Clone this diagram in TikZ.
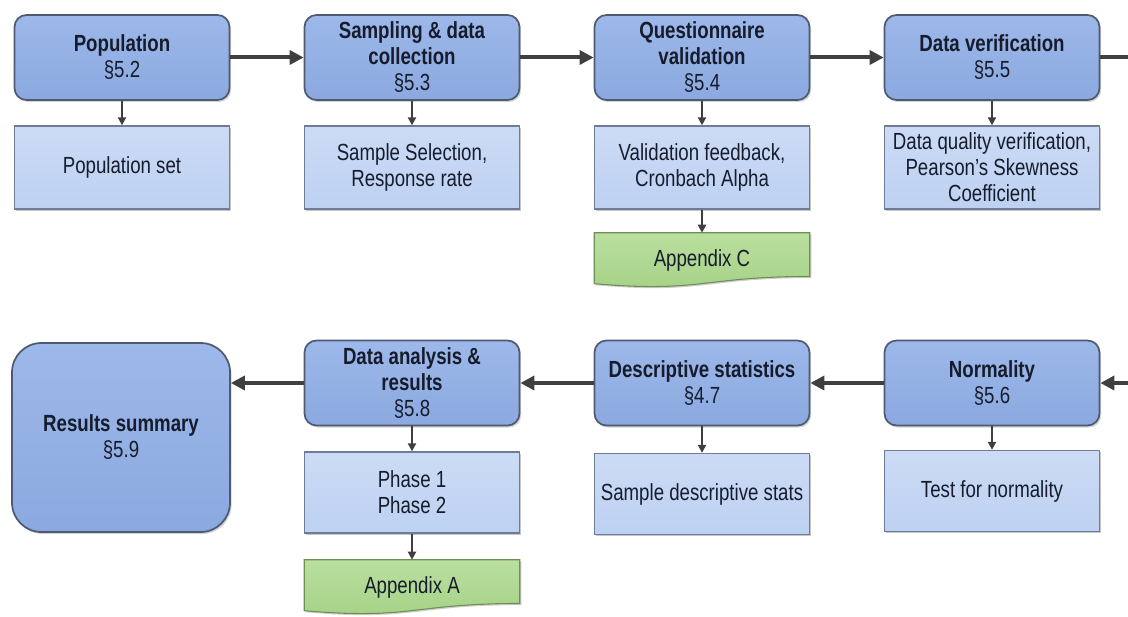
\documentclass[tikz,border=0pt]{standalone}
\usepackage{fontspec}
\setmainfont{Liberation Sans}[FakeStretch=0.8]
\usetikzlibrary{arrows.meta,shadows,calc,backgrounds}
\definecolor{hdrFill}{HTML}{8BA9E0}
\definecolor{hdrTop}{HTML}{9DB8E9}
\definecolor{hdrLine}{HTML}{4E5A72}
\definecolor{subFill}{HTML}{BDD1F2}
\definecolor{subTop}{HTML}{CCDBF5}
\definecolor{subLine}{HTML}{6E7C96}
\definecolor{grnFill}{HTML}{A5D186}
\definecolor{grnTop}{HTML}{BADF9F}
\definecolor{grnLine}{HTML}{6F8F55}
\definecolor{arrowCol}{HTML}{3F3F3F}
\definecolor{txtCol}{HTML}{161C2C}
\tikzset{
  hdr/.style={draw=hdrLine, line width=1.3pt, rounded corners=9pt, top color=hdrTop, bottom color=hdrFill,
    minimum width=161.25pt, minimum height=63.75pt, inner sep=0pt, align=center, text=txtCol,
    font=\fontsize{17.5}{19.5}\selectfont,
    drop shadow={shadow xshift=1.2pt,shadow yshift=-1.5pt,opacity=0.35}},
  subbox/.style={draw=subLine, line width=1pt, top color=subTop, bottom color=subFill,
    minimum width=161.25pt, minimum height=62.25pt, inner sep=0pt, align=center, text=txtCol,
    font=\fontsize{17.5}{19.5}\selectfont,
    drop shadow={shadow xshift=1.2pt,shadow yshift=-1.2pt,opacity=0.45}},
  docnode/.style={minimum width=161.25pt, minimum height=40.5pt, inner sep=0pt, text=txtCol,
    font=\fontsize{17.5}{19.5}\selectfont},
  docshape/.style={draw=grnLine, line width=0.8pt, top color=grnTop, bottom color=grnFill,
    drop shadow={shadow xshift=1.2pt,shadow yshift=-1.2pt,opacity=0.4}},
  mainarrow/.style={draw=arrowCol, line width=3pt, -{Triangle[length=10.5pt,width=10.5pt]}},
  smallarrow/.style={draw=arrowCol, line width=1.5pt, -{Triangle[length=6pt,width=6pt]}},
}
\begin{document}
\begin{tikzpicture}[x=0.75pt,y=-0.75pt]
\useasboundingbox (0,0) rectangle (1128,617);
% top row headers
\node[hdr] (pop)  at (122,57.5) {\textbf{Population}\\\S5.2};
\node[hdr] (samp) at (412,57.5) {\textbf{Sampling \& data}\\\textbf{collection}\\\S5.3};
\node[hdr] (ques) at (702,57.5) {\textbf{Questionnaire}\\\textbf{validation}\\\S5.4};
\node[hdr] (ver)  at (992,57.5) {\textbf{Data verification}\\\S5.5};
% top row sub boxes
\node[subbox] (popS)  at (122,167.5) {Population set};
\node[subbox] (sampS) at (412,167.5) {Sample Selection,\\Response rate};
\node[subbox] (quesS) at (702,167.5) {Validation feedback,\\Cronbach Alpha};
\node[subbox] (verS)  at (992,167.5) {Data quality verification,\\Pearson’s Skewness\\Coefficient};
\node[docnode] (appC) at (702,260) {Appendix C};
% bottom row headers
\node[hdr, minimum width=163.5pt, minimum height=141.75pt, rounded corners=22pt] (res) at (121,437.5) {\textbf{Results summary}\\\S5.9};
\node[hdr] (ana)  at (412,383) {\textbf{Data analysis \&}\\\textbf{results}\\\S5.8};
\node[hdr] (desc) at (702,383) {\textbf{Descriptive statistics}\\\S4.7};
\node[hdr] (norm) at (992,383) {\textbf{Normality}\\\S5.6};
% bottom row sub boxes
\node[subbox, minimum height=60.75pt] (anaS)  at (412,492.5) {Phase 1\\Phase 2};
\node[subbox, minimum height=60.75pt] (descS) at (702,494) {Sample descriptive stats};
\node[subbox, minimum height=60.75pt] (normS) at (992,491) {Test for normality};
\node[docnode] (appA) at (412,587) {Appendix A};
% document shapes
\begin{scope}[on background layer]
\path[docshape] (appC.north west) -- (appC.north east) -- ($(appC.south east)+(0,-10.8)$)
  .. controls ($(appC.south)+(0,-10.8)$) and ($(appC.south)+(0,5.8)$) .. ($(appC.south west)+(0,-3.6)$) -- cycle;
\path[docshape] (appA.north west) -- (appA.north east) -- ($(appA.south east)+(0,-10.8)$)
  .. controls ($(appA.south)+(0,-10.8)$) and ($(appA.south)+(0,5.8)$) .. ($(appA.south west)+(0,-3.6)$) -- cycle;
\end{scope}
% main connectors
\coordinate (rc) at (1129.5,57.5);
\draw[mainarrow] (pop) -- (samp);
\draw[mainarrow] (samp) -- (ques);
\draw[mainarrow] (ques) -- (ver);
\draw[mainarrow] (ver.east) -- (rc) |- (norm.east);
\draw[mainarrow] (norm) -- (desc);
\draw[mainarrow] (desc) -- (ana);
\draw[mainarrow] (ana.west) -- (ana.west -| res.east);
% small connectors
\draw[smallarrow] (pop) -- (popS);
\draw[smallarrow] (samp) -- (sampS);
\draw[smallarrow] (ques) -- (quesS);
\draw[smallarrow] (quesS) -- (appC);
\draw[smallarrow] (ver) -- (verS);
\draw[smallarrow] (ana) -- (anaS);
\draw[smallarrow] (anaS) -- (appA);
\draw[smallarrow] (desc) -- (descS);
\draw[smallarrow] (norm) -- (normS);
\end{tikzpicture}
\end{document}
